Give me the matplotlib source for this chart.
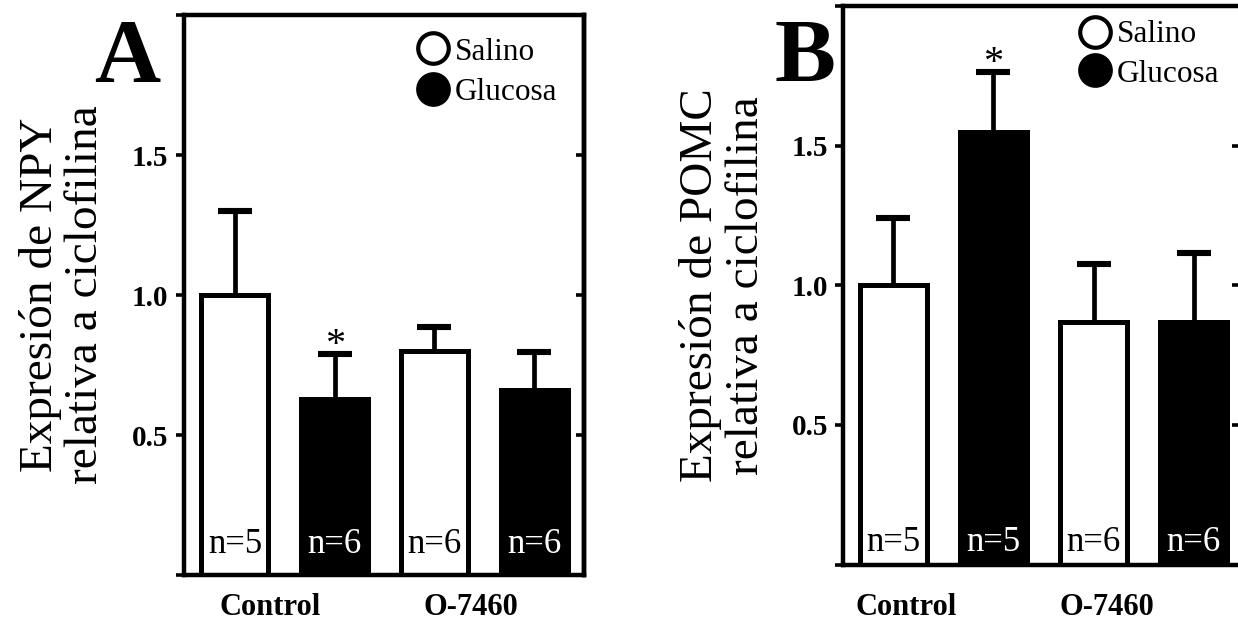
import matplotlib
matplotlib.use("Agg")
import matplotlib.pyplot as plt

plt.rcParams['font.family'] = ['Liberation Serif', 'DejaVu Serif']

# data
treatments = ['Salino', 'Glucosa', 'Salino', 'Glucosa']
groups = ['Control', 'O-7460']
npy_mean = [1.00, 0.63, 0.80, 0.66]
npy_err = [0.30, 0.16, 0.085, 0.135]
npy_n = ['n=5', 'n=6', 'n=6', 'n=6']
npy_star = [1]
pomc_mean = [1.00, 1.55, 0.87, 0.87]
pomc_err = [0.24, 0.215, 0.205, 0.245]
pomc_n = ['n=5', 'n=5', 'n=6', 'n=6']
pomc_star = [1]
legend_names = ['Salino', 'Glucosa']
y_ticks = [0, 0.5, 1.0, 1.5, 2.0]
y_ticklabels = ['', '0.5', '1.0', '1.5', '']

W, H = 1238, 622
fig = plt.figure(figsize=(W / 100, H / 100), dpi=100)


def px_axes(left, right, top, bottom):
    return fig.add_axes([left / W, 1 - bottom / H, (right - left) / W, (bottom - top) / H])


def panel(ax, means, errs, ns, stars, ylabel, letter, letter_x, xlim,
          n_y, group_x, group_y, leg_x, leg_y, leg_text_y):
    x = list(range(len(means)))
    faces = ['white' if t == 'Salino' else 'black' for t in treatments]
    eb = ax.errorbar(x, means, yerr=[[0] * len(errs), errs], fmt='none', ecolor='black',
                     elinewidth=3.4, capsize=12, capthick=4.4, zorder=1)
    # only the upper cap is drawn in the original
    eb[1][0].set_visible(False)
    ax.bar(x, means, width=0.67, color=faces, edgecolor='black', linewidth=3.6, zorder=2)
    for xi, lab, fc in zip(x, ns, faces):
        ax.text(xi, n_y, lab, ha='center', va='baseline', fontsize=25,
                color='white' if fc == 'black' else 'black', zorder=3)
    for s in stars:
        ax.annotate('*', (s, means[s] + errs[s]), xytext=(0, -1), textcoords='offset points',
                    ha='center', va='baseline', fontsize=29, zorder=3)

    ax.set_xlim(*xlim)
    ax.set_ylim(0, 2.0)
    ax.set_yticks(y_ticks)
    ax.set_yticklabels(y_ticklabels, fontweight='bold', fontsize=21)
    ax.tick_params(axis='y', direction='out', length=6, width=2.6, pad=5)
    ax.set_xticks([0, 2])
    ax.set_xticklabels([])
    ax.tick_params(axis='x', direction='in', length=8, width=2.6)
    for sp in ax.spines.values():
        sp.set_linewidth(3.2)

    sec = ax.secondary_yaxis('right')
    sec.set_yticks(y_ticks)
    sec.set_yticklabels([])
    sec.tick_params(direction='in', length=6, width=2.6)
    sec.spines['right'].set_linewidth(3.2)

    tr = ax.get_xaxis_transform()
    for gx, g in zip(group_x, groups):
        ax.text(gx, group_y, g, transform=tr, ha='center', va='baseline',
                fontsize=22, fontweight='bold')

    ax.set_ylabel(ylabel, fontsize=34, linespacing=1.1)
    ax.yaxis.set_label_coords(-0.19, 0.5)

    fig.text(letter_x / W, 1 - 82 / H, letter, fontsize=66, fontweight='bold',
             ha='left', va='baseline')

    for name, yy, ty in zip(legend_names, leg_y, leg_text_y):
        ax.plot([leg_x], [yy], 'o', transform=ax.transAxes, clip_on=False,
                markersize=22, markeredgewidth=3,
                markerfacecolor='white' if name == 'Salino' else 'black',
                markeredgecolor='black')
        ax.text(leg_x + 0.055, ty, name, transform=ax.transAxes, fontsize=22.5,
                ha='left', va='baseline')


axA = px_axes(183.5, 583.5, 15, 575)
panel(axA, npy_mean, npy_err, npy_n, npy_star,
      'Expresión de NPY\nrelativa a ciclofilina', 'A', 94, (-0.515, 3.495),
      0.079, [0.355, 2.365], -0.0714, 0.624, [0.941, 0.868], [0.920, 0.848])

axB = px_axes(843.5, 1240, 6, 564.5)
panel(axB, pomc_mean, pomc_err, pomc_n, pomc_star,
      'Expresión de POMC\nrelativa a ciclofilina', 'B', 775, (-0.5, 3.465),
      0.048, [0.125, 2.135], -0.0904, 0.634, [0.954, 0.885], [0.936, 0.864])

fig.savefig('out.png', dpi=100)
